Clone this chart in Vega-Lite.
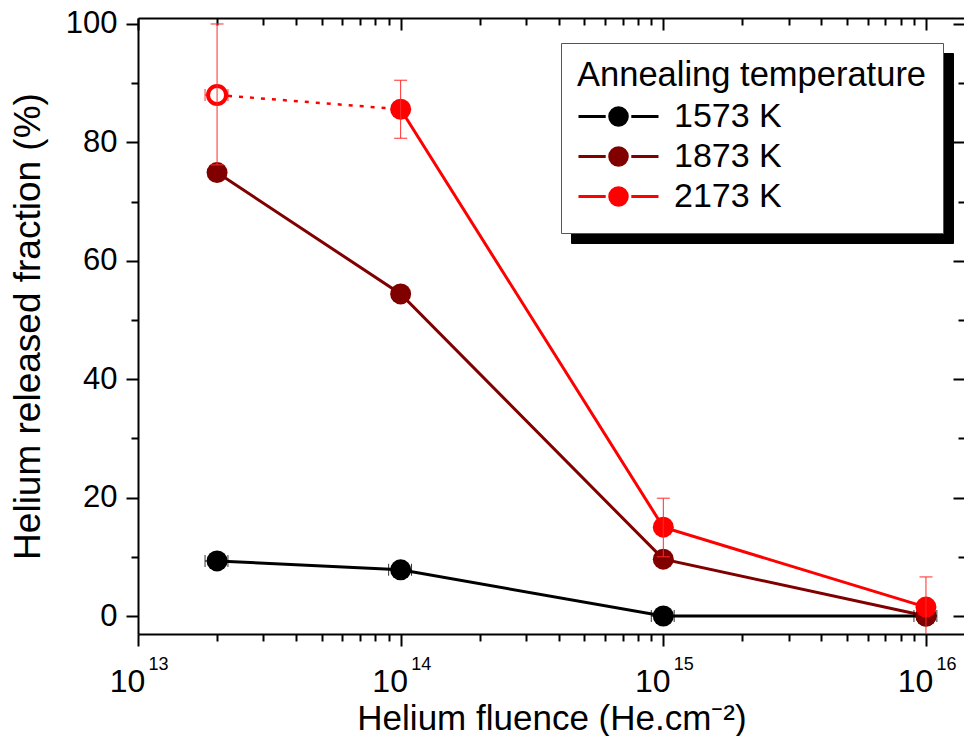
{
  "$schema": "https://vega.github.io/schema/vega-lite/v6.json",
  "width": 827,
  "height": 616,
  "autosize": {"type": "none"},
  "padding": {"left": 138, "top": 18, "right": 0, "bottom": 102},
  "background": "white",
  "config": {
    "view": {"stroke": null},
    "font": "Liberation Sans",
    "axis": {
      "domainColor": "black",
      "domainWidth": 2,
      "tickColor": "black",
      "tickWidth": 2,
      "grid": false,
      "labelColor": "black",
      "titleColor": "black",
      "titleFontWeight": "normal",
      "labelOverlap": false,
      "labelFlush": false,
      "labelBound": false
    }
  },
  "datasets": {
    "pts": [
      {"T": "1573 K", "fluence": 2e13, "frac": 9.3},
      {"T": "1573 K", "fluence": 1e14, "frac": 7.8},
      {"T": "1573 K", "fluence": 1e15, "frac": 0},
      {"T": "1573 K", "fluence": 1e16, "frac": 0},
      {"T": "1873 K", "fluence": 2e13, "frac": 74.9},
      {"T": "1873 K", "fluence": 1e14, "frac": 54.4},
      {"T": "1873 K", "fluence": 1e15, "frac": 9.6},
      {"T": "1873 K", "fluence": 1e16, "frac": 0},
      {"T": "2173 K", "fluence": 1e14, "frac": 85.6},
      {"T": "2173 K", "fluence": 1e15, "frac": 15.0},
      {"T": "2173 K", "fluence": 1e16, "frac": 1.5}
    ],
    "dot": [
      {"T": "2173 K", "fluence": 2e13, "frac": 88.0},
      {"T": "2173 K", "fluence": 1e14, "frac": 85.6}
    ],
    "open": [
      {"T": "2173 K", "fluence": 2e13, "frac": 88.0}
    ],
    "xerr": [
      {"T": "1573 K", "frac": 9.3, "xlo": 1.8e13, "xhi": 2.2e13},
      {"T": "1573 K", "frac": 7.8, "xlo": 9e13, "xhi": 1.1e14},
      {"T": "1573 K", "frac": 0, "xlo": 9e14, "xhi": 1.1e15},
      {"T": "1573 K", "frac": 0, "xlo": 9e15, "xhi": 1.1e16},
      {"T": "2173 K", "frac": 88.0, "xlo": 1.8e13, "xhi": 2.2e13}
    ],
    "yerr": [
      {"fluence": 2e13, "lo": 76.2, "hi": 100},
      {"fluence": 1e14, "lo": 80.7, "hi": 90.5},
      {"fluence": 1e15, "lo": 10.0, "hi": 19.9},
      {"fluence": 1e16, "lo": -3.5, "hi": 6.6}
    ],
    "legendShadow": [
      {"T2": "1573 K"},
      {"T2": "1873 K"},
      {"T2": "2173 K"}
    ]
  },
  "resolve": {"axis": {"x": "independent", "y": "independent"}},
  "layer": [
    {
      "data": {"name": "pts"},
      "mark": {"type": "line", "strokeWidth": 3},
      "encoding": {
        "x": {
          "field": "fluence", "type": "quantitative",
          "scale": {"type": "log", "domain": [1e13, 1.408e16], "nice": false},
          "axis": {
            "orient": "bottom",
            "values": [1e13, 2e13, 3e13, 4e13, 5e13, 6e13, 7e13, 8e13, 9e13, 1e14, 2e14, 3e14, 4e14, 5e14, 6e14, 7e14, 8e14, 9e14, 1e15, 2e15, 3e15, 4e15, 5e15, 6e15, 7e15, 8e15, 9e15, 1e16],
            "tickSize": {"condition": {"test": "abs(log(datum.value)/LN10 - round(log(datum.value)/LN10)) < 0.001", "value": 12}, "value": 7},
            "labelExpr": "abs(log(datum.value)/LN10 - round(log(datum.value)/LN10)) < 0.001 ? '10' : ''",
            "labelFont": "Liberation Sans",
            "labelFontSize": 32,
            "labelBaseline": "alphabetic",
            "labelPadding": 45,
            "labelOffset": -11,
            "labelAlign": "center",
            "title": "Helium fluence (He.cm⁻²)",
            "titleFontSize": 35,
            "titlePadding": 4
          }
        },
        "y": {
          "field": "frac", "type": "quantitative",
          "scale": {"domain": [-3.04, 101.01], "nice": false, "zero": false},
          "axis": {
            "orient": "left",
            "values": [0, 10, 20, 30, 40, 50, 60, 70, 80, 90, 100],
            "tickSize": {"condition": {"test": "datum.value % 20 === 0", "value": 12}, "value": 7},
            "labelExpr": "datum.value % 20 === 0 ? datum.label : ''",
            "labelFontSize": 31,
            "labelPadding": 9,
            "title": "Helium released fraction (%)",
            "titleFontSize": 37,
            "titlePadding": 18
          }
        },
        "color": {
          "field": "T", "type": "nominal",
          "scale": {"domain": ["1573 K", "1873 K", "2173 K"], "range": ["#000000", "#800000", "#ff0000"]}
        }
      }
    },
    {
      "data": {"name": "dot"},
      "mark": {"type": "line", "strokeWidth": 2.5, "strokeDash": [4, 7], "color": "#ff0000"},
      "encoding": {
        "x": {
          "field": "fluence", "type": "quantitative",
          "axis": {
            "orient": "bottom",
            "values": [1e13, 1e14, 1e15, 1e16],
            "ticks": false,
            "domain": false,
            "labelExpr": "'' + round(log(datum.value)/LN10)",
            "labelFont": "Liberation Sans",
            "labelFontSize": 18,
            "labelBaseline": "alphabetic",
            "labelPadding": 35,
            "labelOffset": 20,
            "labelAlign": "center",
            "title": null
          }
        },
        "y": {
          "field": "frac", "type": "quantitative",
          "axis": {
            "orient": "right",
            "values": [0, 10, 20, 30, 40, 50, 60, 70, 80, 90, 100],
            "tickSize": {"condition": {"test": "datum.value % 20 === 0", "value": -12}, "value": -7},
            "labels": false,
            "title": null
          }
        }
      }
    },
    {
      "data": {"name": "xerr"},
      "mark": {"type": "rule", "strokeWidth": 1},
      "encoding": {
        "x": {
          "field": "xlo", "type": "quantitative",
          "axis": {
            "orient": "top",
            "values": [1e13, 2e13, 3e13, 4e13, 5e13, 6e13, 7e13, 8e13, 9e13, 1e14, 2e14, 3e14, 4e14, 5e14, 6e14, 7e14, 8e14, 9e14, 1e15, 2e15, 3e15, 4e15, 5e15, 6e15, 7e15, 8e15, 9e15, 1e16],
            "tickSize": {"condition": {"test": "abs(log(datum.value)/LN10 - round(log(datum.value)/LN10)) < 0.001", "value": -12}, "value": -7},
            "labels": false,
            "title": null
          }
        },
        "x2": {"field": "xhi"},
        "y": {"field": "frac", "type": "quantitative", "axis": null},
        "color": {"field": "T", "type": "nominal"}
      }
    },
    {
      "data": {"name": "xerr"},
      "mark": {"type": "tick", "orient": "vertical", "size": 12, "thickness": 1, "opacity": 0.8},
      "encoding": {
        "x": {"field": "xlo", "type": "quantitative", "axis": null},
        "y": {"field": "frac", "type": "quantitative", "axis": null},
        "color": {"field": "T", "type": "nominal"}
      }
    },
    {
      "data": {"name": "xerr"},
      "mark": {"type": "tick", "orient": "vertical", "size": 12, "thickness": 1, "opacity": 0.8},
      "encoding": {
        "x": {"field": "xhi", "type": "quantitative", "axis": null},
        "y": {"field": "frac", "type": "quantitative", "axis": null},
        "color": {"field": "T", "type": "nominal"}
      }
    },
    {
      "data": {"name": "pts"},
      "mark": {"type": "point", "filled": true, "size": 441, "opacity": 1},
      "encoding": {
        "x": {"field": "fluence", "type": "quantitative", "axis": null},
        "y": {"field": "frac", "type": "quantitative", "axis": null},
        "color": {
          "field": "T", "type": "nominal",
          "legend": {
            "title": "Annealing temperature",
            "orient": "none",
            "legendX": 423,
            "legendY": 25,
            "direction": "vertical",
            "fillColor": "white",
            "strokeColor": "#555555",
            "padding": 16,
            "titleFont": "Liberation Sans",
            "titleFontSize": 34.5,
            "titleFontWeight": "normal",
            "titleColor": "black",
            "titleLimit": 600,
            "titlePadding": 3,
            "labelFont": "Liberation Sans",
            "labelFontSize": 34,
            "labelColor": "black",
            "labelOffset": 14,
            "labelLimit": 400,
            "symbolType": "M-1,0L-0.32,0M0.32,0L1,0M-0.22,0A0.22,0.22,0,1,0,0.22,0A0.22,0.22,0,1,0,-0.22,0Z",
            "symbolSize": 6400,
            "symbolStrokeWidth": 3,
            "symbolOpacity": 1,
            "clipHeight": 40,
            "rowPadding": 0,
            "zindex": 2,
            "encode": {
              "symbols": {
                "update": {
                  "fill": {"scale": "color", "field": "value"},
                  "stroke": {"scale": "color", "field": "value"},
                  "opacity": {"value": 1},
                  "fillOpacity": {"value": 1},
                  "strokeOpacity": {"value": 1},
                  "strokeWidth": {"value": 3}
                }
              }
            }
          }
        }
      }
    },
    {
      "data": {"name": "open"},
      "mark": {"type": "point", "filled": false, "fill": "white", "fillOpacity": 1, "stroke": "#ff0000", "strokeWidth": 4, "size": 324, "opacity": 1},
      "encoding": {
        "x": {"field": "fluence", "type": "quantitative", "axis": null},
        "y": {"field": "frac", "type": "quantitative", "axis": null}
      }
    },
    {
      "data": {"name": "yerr"},
      "mark": {"type": "rule", "strokeWidth": 1, "color": "#ff2a2a", "clip": true},
      "encoding": {
        "x": {"field": "fluence", "type": "quantitative", "axis": null},
        "y": {"field": "lo", "type": "quantitative", "axis": null},
        "y2": {"field": "hi"}
      }
    },
    {
      "data": {"name": "yerr"},
      "mark": {"type": "tick", "orient": "horizontal", "size": 13, "thickness": 1, "color": "#ff2a2a", "opacity": 1, "clip": true},
      "encoding": {
        "x": {"field": "fluence", "type": "quantitative", "axis": null},
        "y": {"field": "lo", "type": "quantitative", "axis": null}
      }
    },
    {
      "data": {"name": "yerr"},
      "mark": {"type": "tick", "orient": "horizontal", "size": 13, "thickness": 1, "color": "#ff2a2a", "opacity": 1, "clip": true},
      "encoding": {
        "x": {"field": "fluence", "type": "quantitative", "axis": null},
        "y": {"field": "hi", "type": "quantitative", "axis": null}
      }
    },
    {
      "data": {"name": "legendShadow"},
      "mark": {"type": "point", "opacity": 0},
      "encoding": {
        "shape": {
          "field": "T2", "type": "nominal",
          "scale": {"range": ["stroke", "stroke", "stroke"]},
          "legend": {
            "title": "\u00a0",
            "orient": "none",
            "legendX": 433,
            "legendY": 35,
            "direction": "vertical",
            "fillColor": "black",
            "strokeColor": "black",
            "padding": 16,
            "titleFont": "Liberation Sans",
            "titleFontSize": 34.5,
            "titleFontWeight": "normal",
            "titleColor": "black",
            "titleLimit": 600,
            "titlePadding": 3,
            "labelExpr": "''",
            "labelFont": "Liberation Sans",
            "labelFontSize": 34,
            "labelColor": "black",
            "labelOffset": 14,
            "labelLimit": 400,
            "symbolSize": 110889,
            "symbolStrokeWidth": 3,
            "symbolFillColor": "black",
            "symbolStrokeColor": "black",
            "clipHeight": 40,
            "rowPadding": 0,
            "zindex": 1
          }
        }
      }
    }
  ]
}
